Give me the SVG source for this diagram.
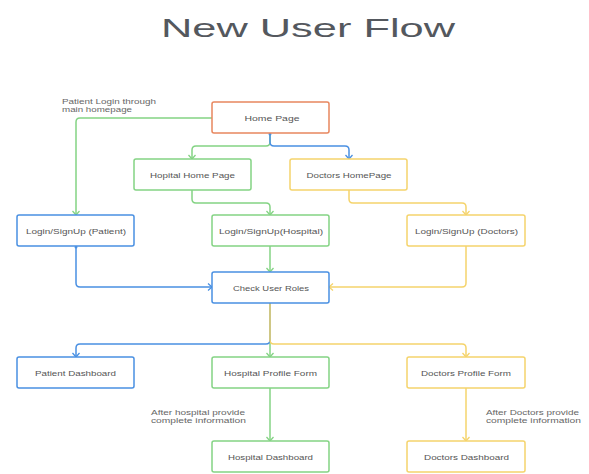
<svg xmlns="http://www.w3.org/2000/svg" width="589" height="474" viewBox="0 0 589 474">
<style>
.box{fill:#fff;stroke-width:1.5}
.g{stroke:#84d384}.b{stroke:#4a90e2}.y{stroke:#f5d46c}.o{stroke:#e8875f}
.t{font-family:"Liberation Sans",Arial,sans-serif;font-size:8px;fill:#555;text-anchor:middle}
.lbl{font-family:"Liberation Sans",Arial,sans-serif;font-size:7px;fill:#666}
.c{fill:none;stroke-width:1.5}
.title{font-family:"Liberation Sans",Arial,sans-serif;font-size:25px;fill:#54585e;text-anchor:middle}
</style>
<defs>
<marker id="ag" viewBox="-5 -5 6 10" refX="0" refY="0" markerWidth="6" markerHeight="10" markerUnits="userSpaceOnUse" orient="auto"><path d="M-4,-3.5 L0,0 L-4,3.5" fill="none" stroke="#84d384" stroke-width="1.3"/></marker>
<marker id="ab" viewBox="-5 -5 6 10" refX="0" refY="0" markerWidth="6" markerHeight="10" markerUnits="userSpaceOnUse" orient="auto"><path d="M-4,-3.5 L0,0 L-4,3.5" fill="none" stroke="#4a90e2" stroke-width="1.3"/></marker>
<marker id="ay" viewBox="-5 -5 6 10" refX="0" refY="0" markerWidth="6" markerHeight="10" markerUnits="userSpaceOnUse" orient="auto"><path d="M-4,-3.5 L0,0 L-4,3.5" fill="none" stroke="#f5d46c" stroke-width="1.3"/></marker>
</defs>
<rect width="589" height="474" fill="#fff"/>
<text class="title" x="308" y="37" textLength="294" lengthAdjust="spacingAndGlyphs">New User Flow</text>

<g id="connectors">
<path class="c g" d="M212,118 H80 Q76,118 76,122 V215" marker-end="url(#ag)"/>
<path class="c g" d="M270,133 V142 Q270,146 266,146 H196 Q192,146 192,150 V159" marker-end="url(#ag)"/>
<path class="c b" d="M270,133 V142 Q270,146 274,146 H345 Q349,146 349,150 V159" marker-end="url(#ab)"/>
<path class="c g" d="M192,190 V199 Q192,203 196,203 H266 Q270,203 270,207 V215" marker-end="url(#ag)"/>
<path class="c y" d="M349,190 V199 Q349,203 353,203 H462 Q466,203 466,207 V215" marker-end="url(#ay)"/>
<path class="c b" d="M76,246 V283 Q76,287 80,287 H212" marker-end="url(#ab)"/>
<path class="c g" d="M270,246 V272" marker-end="url(#ag)"/>
<path class="c y" d="M466,246 V283 Q466,287 462,287 H329" marker-end="url(#ay)"/>
<path class="c g" d="M270,303 V357" marker-end="url(#ag)"/>
<path class="c b" d="M270,303 V340 Q270,344 266,344 H80 Q76,344 76,348 V357" marker-end="url(#ab)"/>
<path class="c y" d="M270,303 V340 Q270,344 274,344 H462 Q466,344 466,348 V357" marker-end="url(#ay)"/>
<path class="c g" d="M270,388 V441" marker-end="url(#ag)"/>
<path class="c y" d="M466,388 V441" marker-end="url(#ay)"/>
<circle cx="270" cy="134" r="1.5" fill="#4a90e2"/>
<circle cx="76" cy="247" r="1.5" fill="#4a90e2"/>
<text class="lbl" x="62" y="104" textLength="94" lengthAdjust="spacingAndGlyphs">Patient Login through</text>
<text class="lbl" x="62" y="112" textLength="70" lengthAdjust="spacingAndGlyphs">main homepage</text>
<text class="lbl" x="151" y="414.5" textLength="94" lengthAdjust="spacingAndGlyphs">After hospital provide</text>
<text class="lbl" x="151" y="422.5" textLength="95" lengthAdjust="spacingAndGlyphs">complete information</text>
<text class="lbl" x="486" y="414.5" textLength="93" lengthAdjust="spacingAndGlyphs">After Doctors provide</text>
<text class="lbl" x="486" y="422.5" textLength="95" lengthAdjust="spacingAndGlyphs">complete information</text>
</g>

<g id="home-page"><rect class="box o" x="212" y="102" width="117" height="31" rx="2"/><text class="t" x="272" y="120.5" textLength="55" lengthAdjust="spacingAndGlyphs">Home Page</text></g>
<g id="hospital-home"><rect class="box g" x="134" y="159" width="117" height="31" rx="2"/><text class="t" x="192.5" y="177.5" textLength="85" lengthAdjust="spacingAndGlyphs">Hopital Home Page</text></g>
<g id="doctors-home"><rect class="box y" x="290" y="159" width="117" height="31" rx="2"/><text class="t" x="349" y="177.5" textLength="85" lengthAdjust="spacingAndGlyphs">Doctors HomePage</text></g>
<g id="login-patient"><rect class="box b" x="17" y="215" width="117" height="31" rx="2"/><text class="t" x="76" y="233.5" textLength="100" lengthAdjust="spacingAndGlyphs">Login/SignUp (Patient)</text></g>
<g id="login-hospital"><rect class="box g" x="212" y="215" width="117" height="31" rx="2"/><text class="t" x="271" y="233.5" textLength="104" lengthAdjust="spacingAndGlyphs">Login/SignUp(Hospital)</text></g>
<g id="login-doctors"><rect class="box y" x="407" y="215" width="118" height="31" rx="2"/><text class="t" x="466.5" y="233.5" textLength="103" lengthAdjust="spacingAndGlyphs">Login/SignUp (Doctors)</text></g>
<g id="check-roles"><rect class="box b" x="212" y="272" width="117" height="31" rx="2"/><text class="t" x="271" y="290.5" textLength="76" lengthAdjust="spacingAndGlyphs">Check User Roles</text></g>
<g id="patient-dashboard"><rect class="box b" x="17" y="357" width="117" height="31" rx="2"/><text class="t" x="75.5" y="375.5" textLength="81" lengthAdjust="spacingAndGlyphs">Patient Dashboard</text></g>
<g id="hospital-profile"><rect class="box g" x="212" y="357" width="117" height="31" rx="2"/><text class="t" x="270.5" y="375.5" textLength="93" lengthAdjust="spacingAndGlyphs">Hospital Profile Form</text></g>
<g id="doctors-profile"><rect class="box y" x="407" y="357" width="118" height="31" rx="2"/><text class="t" x="466" y="375.5" textLength="90" lengthAdjust="spacingAndGlyphs">Doctors Profile Form</text></g>
<g id="hospital-dashboard"><rect class="box g" x="212" y="441" width="117" height="31" rx="2"/><text class="t" x="270.5" y="459.5" textLength="85" lengthAdjust="spacingAndGlyphs">Hospital Dashboard</text></g>
<g id="doctors-dashboard"><rect class="box y" x="407" y="441" width="118" height="31" rx="2"/><text class="t" x="466.5" y="459.5" textLength="85" lengthAdjust="spacingAndGlyphs">Doctors Dashboard</text></g>
</svg>
